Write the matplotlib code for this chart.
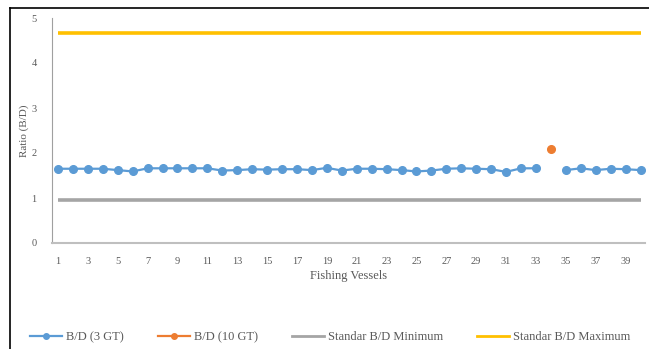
import numpy as np
import matplotlib.pyplot as plt
from matplotlib.lines import Line2D

plt.rcParams['font.family'] = ['Liberation Serif', 'DejaVu Serif']

# B/D ratio per vessel (vessel 34 is the 10 GT boat)
vessels = np.arange(1, 41)
bd_3gt = [1.65, 1.65, 1.65, 1.65, 1.62, 1.59, 1.66, 1.66, 1.66, 1.66,
          1.66, 1.61, 1.62, 1.64, 1.63, 1.64, 1.64, 1.62, 1.67, 1.61,
          1.65, 1.65, 1.64, 1.62, 1.59, 1.61, 1.65, 1.66, 1.65, 1.64,
          1.58, 1.66, 1.66, np.nan, 1.62, 1.66, 1.62, 1.65, 1.64, 1.62]
vessel_10gt = [34]
bd_10gt = [2.09]
bd_min = 0.96
bd_max = 4.67
xtick_labels = [str(v) for v in range(1, 41, 2)]

blue = '#5B9BD5'
orange = '#ED7D31'
gray = '#A5A5A5'
yellow = '#FFC000'
txt = '#595959'

fig = plt.figure(figsize=(6.49, 3.49), dpi=100)
ax = fig.add_axes([52 / 649, 1 - 243 / 349, 593 / 649, 225 / 349])

ax.plot(vessels, [bd_max] * len(vessels), color=yellow, lw=2.6, solid_capstyle='butt', zorder=2)
ax.plot(vessels, [bd_min] * len(vessels), color=gray, lw=2.6, solid_capstyle='butt', zorder=2)
ax.plot(vessels, bd_3gt, color=blue, lw=1.6, marker='o', ms=5.5, zorder=3)
ax.plot(vessel_10gt, bd_10gt, color=orange, lw=0, marker='o', ms=5.5, zorder=3)

ax.set_xlim(0.6, 40.3)
ax.set_ylim(0, 5)
ax.set_yticks(range(0, 6))
ax.set_xticks(range(1, 41, 2))
ax.set_xticklabels(xtick_labels)
ax.tick_params(length=0, labelsize=7.5, colors=txt)
ax.tick_params(axis='x', pad=10)
ax.tick_params(axis='y', pad=11)
for s in ['top', 'right']:
    ax.spines[s].set_visible(False)
ax.spines['left'].set_color('#A0A0A0')
ax.spines['bottom'].set_color('#BFBFBF')
ax.spines['bottom'].set_linewidth(1.5)

ax.set_xlabel('Fishing Vessels', fontsize=9, color=txt, labelpad=3)
ax.set_ylabel('Ratio (B/D)', fontsize=8, color=txt, labelpad=2)

handles = [
    Line2D([], [], color=blue, lw=1.6, marker='o', ms=4),
    Line2D([], [], color=orange, lw=1.6, marker='o', ms=4),
    Line2D([], [], color=gray, lw=2),
    Line2D([], [], color=yellow, lw=2),
]
labels = ['B/D (3 GT)', 'B/D (10 GT)', 'Standar B/D Minimum', 'Standar B/D Maximum']
leg = fig.legend(handles, labels, loc='center', bbox_to_anchor=(330 / 649, 1 - 337 / 349),
                 ncol=4, frameon=False, fontsize=9, columnspacing=2.7, handlelength=2.6,
                 handletextpad=0.3, borderpad=0)
for t in leg.get_texts():
    t.set_color(txt)

# outer frame on the top and left edges
fig.add_artist(Line2D([9.5 / 649, 9.5 / 649], [0, 1 - 8 / 349], color='black', lw=1.2,
                      transform=fig.transFigure))
fig.add_artist(Line2D([9.5 / 649, 1], [1 - 8 / 349, 1 - 8 / 349], color='black', lw=1.2,
                      transform=fig.transFigure))

fig.savefig('out.png', dpi=100)
